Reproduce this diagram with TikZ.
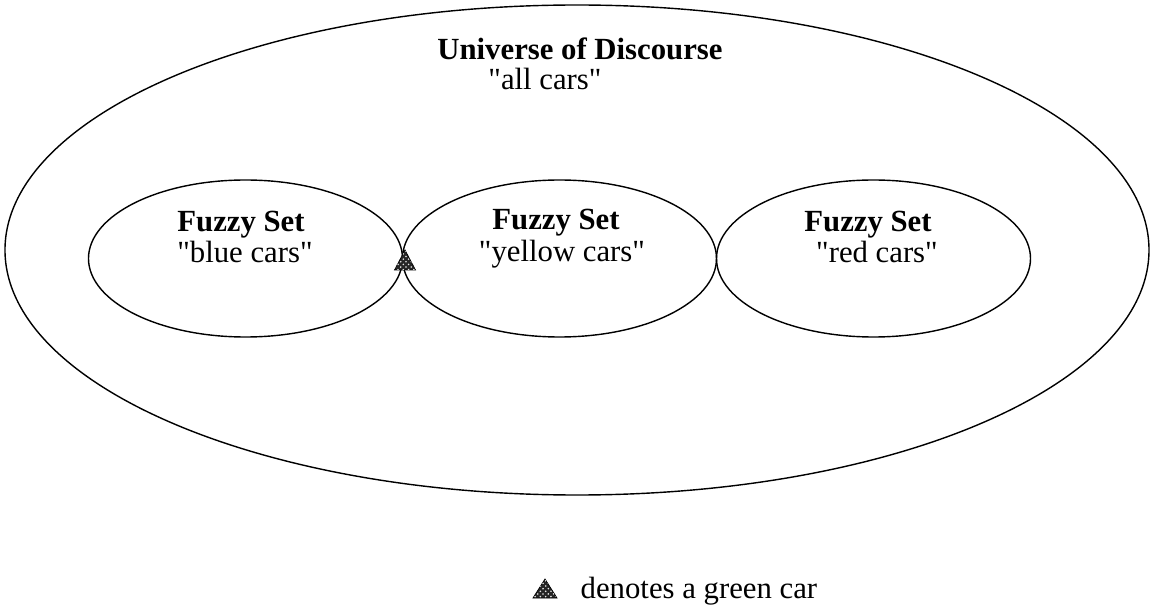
\documentclass[tikz,border=0pt]{standalone}
\usepackage{fontspec}
\setmainfont{Liberation Serif}[Ligatures=TeXOff]
\usetikzlibrary{patterns}

\tikzset{
  greencar/.style={fill=black!85, draw=black, line width=0.4pt},
  greendots/.style={pattern=crosshatch dots, pattern color=white!90!black}
}

\begin{document}
\begin{tikzpicture}[line width=0.8pt]
  \fontsize{17.5}{21}\selectfont
  \useasboundingbox (-11.54,5.0) rectangle (11.5,-7.3);

  % universe of discourse
  \draw (0,0) ellipse (11.44cm and 4.9cm);
  \node [anchor=base] (univtitle) at (0.06,3.8) {\textbf{Universe of Discourse}};
  \node [anchor=base] (univsub) at (-0.64,3.2) {"all cars"};

  % the three fuzzy sets
  \draw (-6.63,-0.17) ellipse (3.14cm and 1.57cm);
  \draw (-0.35,-0.17) ellipse (3.14cm and 1.57cm);
  \draw (5.93,-0.17) ellipse (3.14cm and 1.57cm);

  \node [anchor=base] (bluetitle) at (-6.72,0.36) {\textbf{Fuzzy Set}};
  \node [anchor=base] (bluesub) at (-6.64,-0.26) {"blue cars"};
  \node [anchor=base] (yellowtitle) at (-0.42,0.40) {\textbf{Fuzzy Set}};
  \node [anchor=base] (yellowsub) at (-0.30,-0.24) {"yellow cars"};
  \node [anchor=base] (redtitle) at (5.82,0.36) {\textbf{Fuzzy Set}};
  \node [anchor=base] (redsub) at (6.0,-0.26) {"red cars"};

  % the green car between blue and yellow
  \draw [greencar] (-3.44,0) -- (-3.65,-0.4) -- (-3.23,-0.4) -- cycle;
  \fill [greendots] (-3.44,0) -- (-3.65,-0.4) -- (-3.23,-0.4) -- cycle;

  % legend
  \draw [greencar] (-0.64,-6.58) -- (-0.88,-6.96) -- (-0.40,-6.96) -- cycle;
  \fill [greendots] (-0.64,-6.58) -- (-0.88,-6.96) -- (-0.40,-6.96) -- cycle;
  \node [anchor=base west, inner sep=0pt] (legend) at (0.06,-6.96) {denotes a green car};

  %\draw [yshift=-6cm] node {\color{green!40!black} green};
\end{tikzpicture}
\end{document}
